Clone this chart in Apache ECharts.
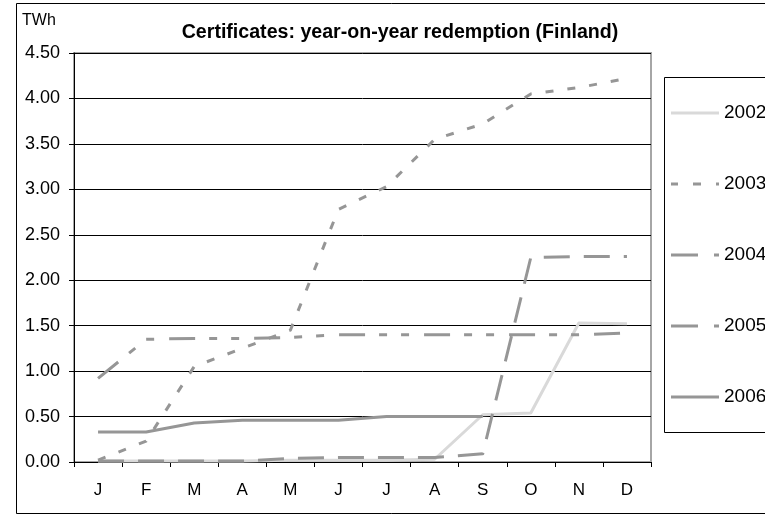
<!DOCTYPE html>
<html>
<head>
<meta charset="utf-8">
<script src="https://cdn.jsdelivr.net/npm/echarts@6/dist/echarts.min.js"></script>
<style>html,body{margin:0;padding:0;background:#fff}#c{width:765px;height:515px}</style>
</head>
<body>
<div id="c"></div>
<script>
const months = ['J','F','M','A','M','J','J','A','S','O','N','D'];
const seriesNames = ['2002','2003','2004','2005','2006'];
const s2002 = [0.01,0.01,0.01,0.01,0.02,0.02,0.02,0.03,0.52,0.54,1.53,1.52];
const s2003 = [0.02,0.23,1.05,1.25,1.45,2.78,3.03,3.55,3.72,4.05,4.12,4.22];
const s2004 = [0.01,0.01,0.01,0.01,0.04,0.05,0.05,0.05,0.09,2.25,2.26,2.26];
const s2005 = [0.92,1.35,1.36,1.36,1.37,1.40,1.40,1.40,1.40,1.40,1.40,1.42];
const s2006 = [0.33,0.33,0.43,0.46,0.46,0.46,0.50,0.50,0.50,null,null,null];
const yTicks = [0,0.5,1,1.5,2,2.5,3,3.5,4,4.5];

const FONT = '"Liberation Sans", Arial, sans-serif';
const gray = '#969696';
const ICON_SOLID = 'path://M0,0h48v3h-48z';
const ICON_SHORT = 'path://M0,0h7v3h-7zM22,0h8v3h-8zM45,0h3v3h-3z';
const ICON_LONG = 'path://M0,0h27v3h-27zM43,0h5v3h-5z';
const legendIcons = [ICON_SOLID, ICON_SHORT, ICON_LONG, ICON_LONG, ICON_SOLID];

const chart = echarts.init(document.getElementById('c'), null, {renderer:'canvas'});
function ln(name, data, color, dash){
  return {name, type:'line', data, symbol:'none', showSymbol:false, smooth:false, connectNulls:false,
    lineStyle:{color, width:3, type:dash, cap:'butt', join:'round'},
    itemStyle:{color}, emphasis:{disabled:true}, z:3};
}
chart.setOption({
  animation:false,
  backgroundColor:'#fff',
  title:{text:'Certificates: year-on-year redemption (Finland)', left:395, textAlign:'center', top:18,
    textStyle:{fontFamily:FONT, fontSize:19.6, fontWeight:'bold', color:'#000'}},
  grid:{left:74, right:114, top:53, bottom:53, show:true, borderColor:'#a6a6a6', borderWidth:2, backgroundColor:'transparent'},
  xAxis:{type:'category', data:months, boundaryGap:true,
    axisLine:{lineStyle:{color:'#000', width:1}},
    axisTick:{show:true, length:5, lineStyle:{color:'#000'}},
    axisLabel:{fontFamily:FONT, fontSize:17, color:'#000', margin:20}},
  yAxis:{type:'value', min:yTicks[0], max:yTicks[yTicks.length-1], interval:0.5,
    axisLine:{show:true, lineStyle:{color:'#000', width:1}},
    axisTick:{show:true, length:5, lineStyle:{color:'#000'}},
    splitLine:{lineStyle:{color:'#000', width:1}},
    axisLabel:{fontFamily:FONT, fontSize:18, color:'#000', margin:14, formatter:v=>v.toFixed(2)}},
  legend:{orient:'vertical', left:671, top:102, itemWidth:48, itemHeight:3, itemGap:49,
    data:seriesNames.map((n,i)=>({name:n, icon:legendIcons[i]})),
    textStyle:{fontFamily:FONT, fontSize:19, color:'#000', lineHeight:22}, padding:0, selectedMode:false},
  graphic:[
    {type:'rect', shape:{x:16.5,y:3.5,width:760,height:510}, style:{fill:'none', stroke:'#000', lineWidth:1}, z:0},
    {type:'rect', shape:{x:664.5,y:77.5,width:200,height:355}, style:{fill:'#fff', stroke:'#000', lineWidth:1}, z:1},
    {type:'text', x:22, y:13, style:{text:'TWh', font:'16px '+FONT, fill:'#000'}, z:5}
  ],
  series:[
    ln(seriesNames[0], s2002, '#d9d9d9', 'solid'),
    ln(seriesNames[1], s2003, gray, [8,14]),
    ln(seriesNames[2], s2004, gray, [26,14]),
    ln(seriesNames[3], s2005, gray, [26,14,8,14,8,15]),
    ln(seriesNames[4], s2006, gray, 'solid')
  ]
});
</script>
</body>
</html>
